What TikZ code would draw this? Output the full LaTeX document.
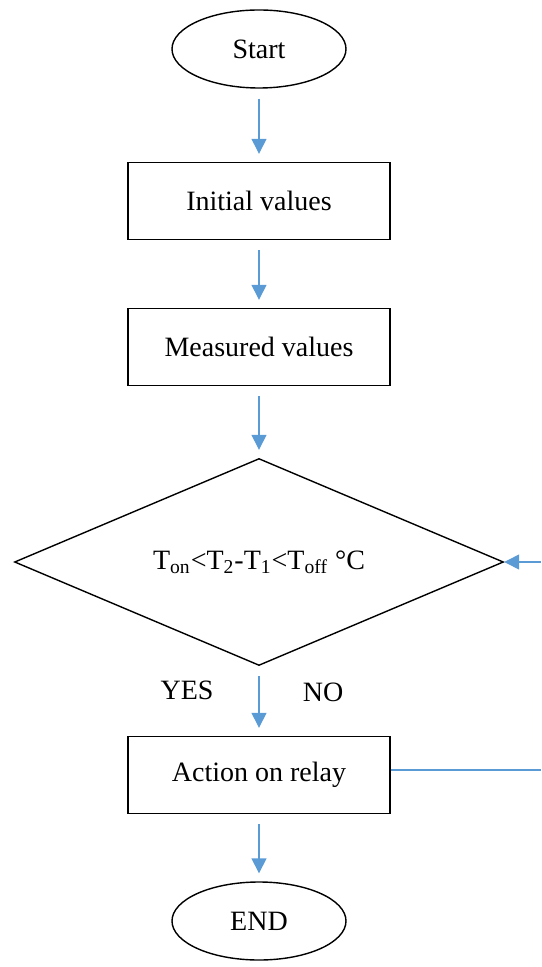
\documentclass[tikz,border=0pt]{standalone}
\usepackage{fontspec}
\setmainfont{Liberation Serif}
\usetikzlibrary{shapes.geometric,arrows.meta}

\definecolor{arrowblue}{RGB}{91,155,213}

\tikzset{
    terminal/.style={draw,ellipse,line width=0.7pt,minimum width=87pt,minimum height=39pt,inner sep=0pt},
    process/.style={draw,rectangle,line width=0.7pt,minimum width=131pt,minimum height=38.5pt,inner sep=0pt},
    decision/.style={draw,diamond,aspect=2.36,line width=0.7pt,minimum width=244.5pt,minimum height=103.5pt,inner sep=0pt},
    flow/.style={arrowblue,line width=0.7pt,-{Triangle[length=7.5pt,width=7.5pt]},shorten <=5pt,shorten >=4pt},
    loopline/.style={arrowblue,line width=0.7pt}
}

\begin{document}
\begin{tikzpicture}[x=0.5pt,y=-0.5pt,font=\fontsize{14}{16}\selectfont]
    \useasboundingbox (0,0) rectangle (541,967);
    \node[terminal] (start) at (259,49) {Start};
    \node[process] (init) at (259,201) {Initial values};
    \node[process] (meas) at (259,347) {Measured values};
    \node[decision] (cond) at (259,562) {T\textsubscript{on}<T\textsubscript{2}-T\textsubscript{1}<T\textsubscript{off} °C};
    \node[process] (relay) at (259,775) {Action on relay};
    \node[terminal] (end) at (259,921) {END};
    \node (yes) at (187,690) {YES};
    \node (no) at (323,692) {NO};
    \coordinate (relayout) at (541,770);
    \coordinate (loopin) at (541,562);

    \draw[flow] (start) -- (init);
    \draw[flow] (init) -- (meas);
    \draw[flow] (meas) -- (cond);
    \draw[flow] (cond) -- (relay);
    \draw[flow] (relay) -- (end);
    \draw[loopline] (relay.east |- relayout) -- (relayout);
    \draw[flow,shorten <=0pt,shorten >=0pt] (loopin) -- (cond.east);
\end{tikzpicture}
\end{document}
